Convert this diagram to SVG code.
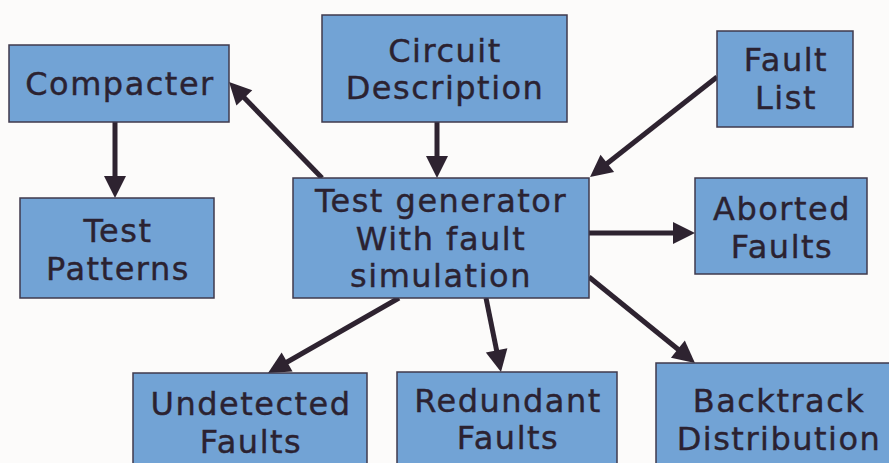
<svg xmlns="http://www.w3.org/2000/svg" width="889" height="463" viewBox="0 0 889 463">
<defs>
<style>
.box{fill:#72a3d5;stroke:#3f3a4c;stroke-width:1.5}
.t{font-family:"DejaVu Sans",Verdana,sans-serif;font-size:32px;letter-spacing:1.5px;fill:#2b2231;stroke:#2b2231;stroke-width:0.4;text-anchor:middle}
.c{stroke:#2e2330;stroke-width:5;fill:none;marker-end:url(#ah)}
</style>
<marker id="ah" markerUnits="userSpaceOnUse" markerWidth="24" markerHeight="24" refX="12" refY="11" orient="auto" viewBox="0 0 24 24" overflow="visible">
<path d="M0,0 L22,11 L0,22 z" fill="#2e2330"/>
</marker>
</defs>
<rect width="889" height="463" fill="#fcfbfa"/>
<g id="connectors">
<line class="c" x1="115" y1="122" x2="115" y2="188"/>
<line class="c" x1="437" y1="122" x2="437" y2="168"/>
<line class="c" x1="322" y1="178" x2="236" y2="89.2"/>
<line class="c" x1="717" y1="77" x2="597.9" y2="170.8"/>
<line class="c" x1="589" y1="233" x2="685" y2="233"/>
<line class="c" x1="399" y1="298" x2="276.7" y2="368"/>
<line class="c" x1="486" y1="298" x2="499" y2="362.2"/>
<line class="c" x1="589" y1="277" x2="687.2" y2="356.7"/>
</g>
<g id="compacter"><rect class="box" x="9" y="45" width="220" height="77"/><text class="t" x="120" y="95">Compacter</text></g>
<g id="test-patterns"><rect class="box" x="20" y="198" width="194" height="100"/><text class="t" x="118" y="242">Test</text><text class="t" x="118" y="280">Patterns</text></g>
<g id="circuit-description"><rect class="box" x="322" y="15" width="245" height="107"/><text class="t" x="445" y="62">Circuit</text><text class="t" x="445" y="99">Description</text></g>
<g id="test-generator"><rect class="box" x="293" y="178" width="296" height="120"/><text class="t" x="441" y="212">Test generator</text><text class="t" x="441" y="250">With fault</text><text class="t" x="441" y="287">simulation</text></g>
<g id="fault-list"><rect class="box" x="717" y="31" width="136" height="96"/><text class="t" x="786" y="71">Fault</text><text class="t" x="786" y="109">List</text></g>
<g id="aborted-faults"><rect class="box" x="695" y="178" width="172" height="96"/><text class="t" x="782" y="220">Aborted</text><text class="t" x="782" y="258">Faults</text></g>
<g id="undetected-faults"><rect class="box" x="133" y="373" width="234" height="100"/><text class="t" x="251" y="415">Undetected</text><text class="t" x="251" y="453">Faults</text></g>
<g id="redundant-faults"><rect class="box" x="397" y="372" width="220" height="100"/><text class="t" x="508" y="412">Redundant</text><text class="t" x="508" y="449">Faults</text></g>
<g id="backtrack-distribution"><rect class="box" x="656" y="363" width="244" height="110"/><text class="t" x="779" y="412">Backtrack</text><text class="t" x="779" y="450">Distribution</text></g>
</svg>
